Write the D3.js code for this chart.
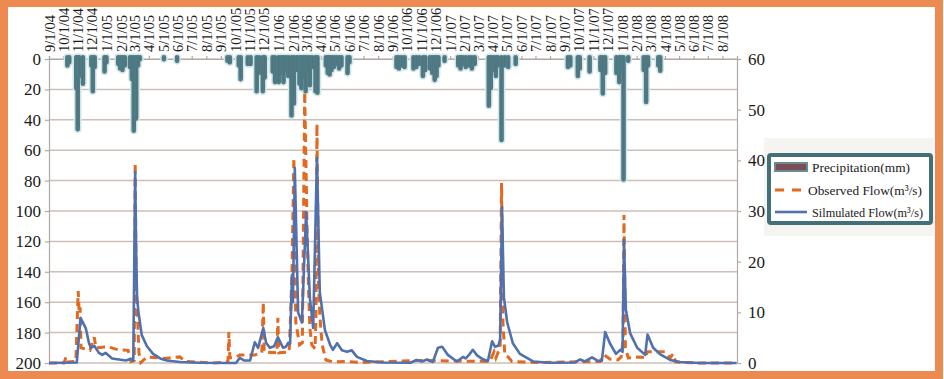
<!DOCTYPE html>
<html>
<head>
<meta charset="utf-8">
<script src="https://cdn.jsdelivr.net/npm/d3@7"></script>
<style>
body { margin: 0; background: #fff; }
text { font-family: "Liberation Serif", "Times New Roman", serif; fill: #1a1a1a; }
</style>
</head>
<body>
<div id="graph"></div>
<script>
// canvas size and plot box
var w = 944;
var h = 379;
var plotLeft = 49, plotRight = 737, plotTop = 59, plotBottom = 363;

// month labels along the top axis
var monthLabels = ["9/1/04","10/1/04","11/1/04","12/1/04","1/1/05","2/1/05","3/1/05","4/1/05",
    "5/1/05","6/1/05","7/1/05","8/1/05","9/1/05","10/1/05","11/1/05","12/1/05",
    "1/1/06","2/1/06","3/1/06","4/1/06","5/1/06","6/1/06","7/1/06","8/1/06",
    "9/1/06","10/1/06","11/1/06","12/1/06","1/1/07","2/1/07","3/1/07","4/1/07",
    "5/1/07","6/1/07","7/1/07","8/1/07","9/1/07","10/1/07","11/1/07","12/1/07",
    "1/1/08","2/1/08","3/1/08","4/1/08","5/1/08","6/1/08","7/1/08","8/1/08"];
var precipTicks = [0, 20, 40, 60, 80, 100, 120, 140, 160, 180, 200];
var flowTicks = [0, 10, 20, 30, 40, 50, 60];
var legendNames = ["Precipitation(mm)", "Observed Flow(m\u00b3/s)", "Silmulated Flow(m\u00b3/s)"];

// precipitation (mm), hanging from the top
var precipitation = [
    ["2004-10-10", 5], ["2004-10-14", 3], ["2004-10-29", 20], ["2004-11-01", 47], ["2004-11-04", 12],
    ["2004-11-12", 17], ["2004-11-30", 5], ["2004-12-03", 22], ["2004-12-07", 6], ["2004-12-28", 9],
    ["2005-01-01", 3], ["2005-01-26", 4], ["2005-01-30", 7], ["2005-02-04", 8], ["2005-02-09", 5],
    ["2005-02-20", 6], ["2005-02-24", 14], ["2005-02-28", 48], ["2005-03-05", 40], ["2005-03-09", 5],
    ["2005-03-13", 1], ["2005-05-03", 1], ["2005-05-31", 2], ["2005-09-15", 2], ["2005-09-20", 3],
    ["2005-10-09", 5], ["2005-10-13", 14], ["2005-10-28", 4], ["2005-11-03", 4], ["2005-11-16", 22],
    ["2005-11-21", 10], ["2005-11-29", 22], ["2005-12-03", 13], ["2005-12-20", 9], ["2005-12-25", 16],
    ["2006-01-02", 16], ["2006-01-07", 10], ["2006-01-12", 16], ["2006-01-17", 8], ["2006-01-22", 12],
    ["2006-01-29", 38], ["2006-02-03", 30], ["2006-02-09", 8], ["2006-02-15", 17], ["2006-02-19", 20],
    ["2006-02-24", 12], ["2006-02-28", 22], ["2006-03-04", 8], ["2006-03-09", 18], ["2006-03-14", 6],
    ["2006-03-21", 22], ["2006-03-25", 23], ["2006-04-12", 5], ["2006-04-16", 10], ["2006-04-20", 11],
    ["2006-04-24", 8], ["2006-04-29", 6], ["2006-05-04", 4], ["2006-05-10", 7], ["2006-05-15", 5],
    ["2006-05-28", 10], ["2006-06-01", 3], ["2006-09-09", 6], ["2006-09-14", 7], ["2006-09-20", 5],
    ["2006-09-26", 6], ["2006-10-15", 7], ["2006-10-21", 6], ["2006-10-27", 4], ["2006-11-04", 12],
    ["2006-11-09", 8], ["2006-11-19", 7], ["2006-11-24", 10], ["2006-11-29", 14.5], ["2006-12-03", 12],
    ["2006-12-07", 5], ["2006-12-20", 2], ["2007-01-18", 5], ["2007-01-23", 7], ["2007-01-28", 4],
    ["2007-02-03", 6], ["2007-02-10", 5], ["2007-02-16", 7], ["2007-02-22", 4], ["2007-03-24", 31.5],
    ["2007-03-28", 20], ["2007-04-02", 8], ["2007-04-08", 12], ["2007-04-12", 5], ["2007-04-20", 54],
    ["2007-04-27", 5], ["2007-05-04", 6], ["2007-05-20", 4], ["2007-09-08", 6], ["2007-09-13", 5],
    ["2007-09-29", 12], ["2007-10-03", 7], ["2007-10-24", 9], ["2007-11-16", 8], ["2007-11-21", 23.5],
    ["2007-11-26", 10], ["2007-12-20", 10], ["2007-12-26", 16], ["2007-12-30", 8], ["2008-01-04", 80],
    ["2008-01-14", 2], ["2008-02-16", 8], ["2008-02-21", 29], ["2008-02-25", 5], ["2008-03-18", 5],
    ["2008-03-22", 8.5]
];

// observed flow (m3/s)
var observedFlow = [
    ["2004-09-01", 0], ["2004-10-03", 0], ["2004-10-07", 1.2], ["2004-10-09", 0.2], ["2004-10-28", 0.3],
    ["2004-11-02", 14.2], ["2004-11-04", 10], ["2004-11-06", 11], ["2004-11-08", 3], ["2004-11-27", 2.5],
    ["2004-12-06", 5.1], ["2004-12-10", 3], ["2005-01-04", 3.2], ["2005-01-26", 2.6], ["2005-02-16", 2.5],
    ["2005-02-22", 0.3], ["2005-03-01", 0.5], ["2005-03-03", 39.5], ["2005-03-05", 17], ["2005-03-08", 9],
    ["2005-03-11", 2], ["2005-03-15", 0.1], ["2005-03-28", 1.2], ["2005-05-05", 0.9], ["2005-06-06", 1.2],
    ["2005-06-17", 0.3], ["2005-08-13", 0], ["2005-09-16", 0.2], ["2005-09-18", 6.1], ["2005-09-20", 1.0],
    ["2005-10-03", 1.2], ["2005-10-11", 1.6], ["2005-11-12", 1.6], ["2005-11-27", 2.0], ["2005-11-30", 12],
    ["2005-12-02", 2.2], ["2005-12-29", 2.0], ["2005-12-31", 8.9], ["2006-01-02", 2.0], ["2006-01-24", 2.2],
    ["2006-01-26", 6.9], ["2006-01-30", 18], ["2006-02-03", 40.5], ["2006-02-07", 8.1], ["2006-02-15", 3.6],
    ["2006-02-21", 4], ["2006-02-26", 53.5], ["2006-03-03", 26.6], ["2006-03-06", 15], ["2006-03-09", 6.9],
    ["2006-03-13", 3.6], ["2006-03-20", 2.8], ["2006-03-22", 10], ["2006-03-24", 47.2], ["2006-03-27", 17],
    ["2006-03-30", 9.5], ["2006-04-04", 3.6], ["2006-04-12", 0.6], ["2006-04-27", 0.2], ["2006-05-23", 0.3],
    ["2006-06-23", 0.1], ["2006-10-22", 0.5], ["2007-03-26", 0.3], ["2007-04-04", 2.2], ["2007-04-08", 1.0],
    ["2007-04-13", 2.2], ["2007-04-17", 3], ["2007-04-20", 35.5], ["2007-04-23", 8], ["2007-04-27", 1.5],
    ["2007-05-04", 1.2], ["2007-05-12", 0.3], ["2007-07-11", 0.1], ["2007-11-15", 0.3], ["2007-11-24", 1.6],
    ["2007-12-06", 0.8], ["2007-12-23", 0.6], ["2007-12-30", 1.2], ["2008-01-03", 4.5], ["2008-01-05", 29.2],
    ["2008-01-08", 3], ["2008-01-14", 1.0], ["2008-02-08", 1.2], ["2008-02-21", 1.0], ["2008-02-23", 2.2],
    ["2008-04-01", 2.2], ["2008-04-12", 1.0], ["2008-04-18", 1.8], ["2008-04-24", 0.2], ["2008-06-14", 0],
    ["2008-08-31", 0]
];

// simulated flow (m3/s)
var simulatedFlow = [
    ["2004-09-01", 0], ["2004-10-30", 0.1], ["2004-11-07", 8.9], ["2004-11-18", 6.9], ["2004-11-25", 3.9],
    ["2004-11-29", 3.0], ["2004-12-06", 3.4], ["2004-12-16", 2.0], ["2004-12-23", 1.6], ["2004-12-30", 2.0],
    ["2005-01-13", 0.9], ["2005-02-11", 0.5], ["2005-02-21", 0.8], ["2005-02-27", 0.4], ["2005-03-03", 37.7],
    ["2005-03-05", 22], ["2005-03-07", 13], ["2005-03-10", 10], ["2005-03-17", 5.5], ["2005-03-28", 3.3],
    ["2005-04-10", 1.8], ["2005-04-25", 0.9], ["2005-05-09", 0.5], ["2005-06-06", 0.2], ["2005-07-19", 0.05],
    ["2005-10-03", 0], ["2005-10-11", 1.0], ["2005-10-20", 0.5], ["2005-11-02", 0.5], ["2005-11-12", 4.1],
    ["2005-11-19", 3.0], ["2005-11-30", 6.9], ["2005-12-06", 4.0], ["2005-12-14", 3.0], ["2005-12-23", 3.3],
    ["2005-12-31", 5.1], ["2006-01-11", 3.0], ["2006-01-17", 3.2], ["2006-01-22", 4.0], ["2006-01-26", 3.8],
    ["2006-01-30", 17.4], ["2006-02-01", 12], ["2006-02-05", 38.5], ["2006-02-12", 10], ["2006-02-20", 8],
    ["2006-03-01", 29.8], ["2006-03-09", 12.8], ["2006-03-16", 6.9], ["2006-03-24", 40.5], ["2006-03-30", 14],
    ["2006-04-10", 6.5], ["2006-04-21", 3.6], ["2006-04-27", 2.6], ["2006-05-06", 3.9], ["2006-05-16", 2.5],
    ["2006-05-27", 2.2], ["2006-06-06", 2.5], ["2006-06-17", 1.2], ["2006-07-08", 0.4], ["2006-08-11", 0.1],
    ["2006-10-08", 0.05], ["2006-10-22", 0.6], ["2006-11-02", 0.3], ["2006-11-13", 0.7], ["2006-11-25", 0.2],
    ["2006-12-06", 3.0], ["2006-12-15", 3.2], ["2006-12-27", 1.6], ["2007-01-15", 0.3], ["2007-01-28", 1.2],
    ["2007-02-03", 0.9], ["2007-02-10", 1.6], ["2007-02-18", 2.6], ["2007-02-27", 1.5], ["2007-03-10", 0.8],
    ["2007-03-22", 0.4], ["2007-03-31", 4.3], ["2007-04-06", 3.2], ["2007-04-13", 3.4], ["2007-04-17", 4.5],
    ["2007-04-21", 30.8], ["2007-04-25", 13], ["2007-05-02", 8], ["2007-05-14", 3.9], ["2007-05-29", 1.8],
    ["2007-06-26", 0.3], ["2007-08-01", 0.05], ["2007-09-23", 0.1], ["2007-10-04", 0.7], ["2007-10-14", 0.3],
    ["2007-10-29", 1.1], ["2007-11-09", 0.5], ["2007-11-19", 0.4], ["2007-11-26", 6.1], ["2007-12-06", 3.9],
    ["2007-12-19", 1.8], ["2007-12-28", 2.6], ["2008-01-02", 2.2], ["2008-01-05", 24.3], ["2008-01-09", 10.5],
    ["2008-01-18", 5.9], ["2008-02-02", 3.0], ["2008-02-19", 1.6], ["2008-02-24", 5.6], ["2008-03-07", 3.0],
    ["2008-03-22", 1.7], ["2008-04-12", 0.6], ["2008-05-03", 0.2], ["2008-06-14", 0], ["2008-08-31", 0]
];

var parseDay = d3.timeParse("%Y-%m-%d");
var parseTick = d3.timeParse("%-m/%-d/%y");
var rowConverter = function (d) {
    return { date: parseDay(d[0]), value: d[1] };
};

var svg = d3.select("#graph")
    .append("svg")
    .attr("width", w)
    .attr("height", h);

svg.append("rect")
    .attr("width", w).attr("height", h)
    .attr("fill", "#fff");

// scales
var xScale = d3.scaleTime()
    .domain([new Date(2004, 8, 1), new Date(2008, 8, 1)])
    .range([plotLeft, plotRight]);

var yPrecip = d3.scaleLinear()
    .domain([0, 200])
    .range([plotTop, plotBottom]);

var yFlow = d3.scaleLinear()
    .domain([0, 60])
    .range([plotBottom, plotTop]);

// legend shade (drawn early so it sits behind)
svg.append("rect")
    .attr("x", 764).attr("y", 138)
    .attr("width", 170).attr("height", 98)
    .attr("fill", "#f5f4f1");

// gridlines
svg.append("g")
    .selectAll("line")
    .data(precipTicks)
    .enter()
    .append("line")
    .attr("x1", plotLeft).attr("x2", plotRight)
    .attr("y1", function (d) { return yPrecip(d); })
    .attr("y2", function (d) { return yPrecip(d); })
    .attr("stroke", "#cbbfb8")
    .attr("stroke-width", 1.5);

// left axis
var leftAxis = d3.axisLeft(yPrecip).tickValues(precipTicks).tickSize(4).tickPadding(4);
var gLeft = svg.append("g")
    .attr("transform", "translate(" + plotLeft + ",0)")
    .call(leftAxis);
gLeft.selectAll("text").style("font-size", "17px").attr("fill", "#1a1a1a");

// right axis
var rightAxis = d3.axisRight(yFlow).tickValues(flowTicks).tickSize(4).tickPadding(7);
var gRight = svg.append("g")
    .attr("transform", "translate(" + plotRight + ",0)")
    .call(rightAxis);
gRight.selectAll("text").style("font-size", "17px").attr("fill", "#1a1a1a");

// top date axis
var tickDates = monthLabels.map(parseTick);
var topAxis = d3.axisTop(xScale)
    .tickValues(tickDates)
    .tickSize(3)
    .tickFormat(function (d, i) { return monthLabels[i]; });
var gTop = svg.append("g")
    .attr("transform", "translate(0," + plotTop + ")")
    .call(topAxis);
gTop.selectAll("text")
    .style("font-size", "14.5px")
    .style("text-anchor", "start")
    .attr("fill", "#1a1a1a")
    .attr("transform", "rotate(-90)")
    .attr("x", 7)
    .attr("y", 0)
    .attr("dy", "0.35em");

[gLeft, gRight, gTop].forEach(function (g) {
    g.selectAll("path, line").attr("stroke", "#b3a9a4").attr("stroke-width", 1.2);
});

// precipitation bars
var precipData = precipitation.map(rowConverter);
var barW = 2.4;
var bars = svg.append("g");
bars.selectAll("rect.glow")
    .data(precipData)
    .enter()
    .append("rect")
    .attr("class", "glow")
    .attr("x", function (d) { return xScale(d.date) - barW / 2; })
    .attr("y", yPrecip(0) - 3)
    .attr("width", barW)
    .attr("height", function (d) { return yPrecip(d.value) - yPrecip(0) + 3; })
    .attr("rx", 1.2)
    .attr("fill", "none")
    .attr("stroke", "#d5e6e8")
    .attr("stroke-width", 5.2)
    .attr("stroke-linejoin", "round");
bars.selectAll("rect.bar")
    .data(precipData)
    .enter()
    .append("rect")
    .attr("class", "bar")
    .attr("x", function (d) { return xScale(d.date) - barW / 2; })
    .attr("y", yPrecip(0) - 3)
    .attr("width", barW)
    .attr("height", function (d) { return yPrecip(d.value) - yPrecip(0) + 3; })
    .attr("rx", 1.2)
    .attr("fill", "#7b4d58")
    .attr("stroke", "#4d7c86")
    .attr("stroke-width", 2.2);

// flow lines
var line = d3.line()
    .x(function (d) { return xScale(d.date); })
    .y(function (d) { return yFlow(d.value); });

svg.append("path")
    .datum(observedFlow.map(rowConverter))
    .attr("d", line)
    .attr("fill", "none")
    .attr("stroke", "#e2691f")
    .attr("stroke-width", 3)
    .attr("stroke-dasharray", "8,5");

svg.append("path")
    .datum(simulatedFlow.map(rowConverter))
    .attr("d", line)
    .attr("fill", "none")
    .attr("stroke", "#5170ae")
    .attr("stroke-width", 2.6)
    .attr("stroke-linejoin", "round");

// legend
var legend = svg.append("g");
legend.append("rect")
    .attr("x", 769).attr("y", 155)
    .attr("width", 162).attr("height", 68)
    .attr("rx", 2)
    .attr("fill", "#fff")
    .attr("stroke", "#436f79")
    .attr("stroke-width", 4);
legend.append("rect")
    .attr("x", 775).attr("y", 163)
    .attr("width", 32).attr("height", 8)
    .attr("fill", "#7b4d58")
    .attr("stroke", "#6a8b92")
    .attr("stroke-width", 2);
legend.append("line")
    .attr("x1", 775).attr("x2", 807).attr("y1", 190).attr("y2", 190)
    .attr("stroke", "#e2691f").attr("stroke-width", 3).attr("stroke-dasharray", "9,8");
legend.append("line")
    .attr("x1", 775).attr("x2", 807).attr("y1", 212).attr("y2", 212)
    .attr("stroke", "#5170ae").attr("stroke-width", 2.6);

var legendX = [812, 808, 812];
var legendY = [172, 195, 217];
var legendLen = [98, 114, 111];
legend.selectAll("text")
    .data(legendNames)
    .enter()
    .append("text")
    .attr("x", function (d, i) { return legendX[i]; })
    .attr("y", function (d, i) { return legendY[i]; })
    .attr("textLength", function (d, i) { return legendLen[i]; })
    .attr("lengthAdjust", "spacingAndGlyphs")
    .style("font-size", "13.5px")
    .text(function (d) { return d; });

// orange frame
svg.append("rect")
    .attr("x", 4).attr("y", 3)
    .attr("width", w - 9).attr("height", h - 7)
    .attr("fill", "none")
    .attr("stroke", "#ec8a52")
    .attr("stroke-width", 8);
</script>
</body>
</html>
